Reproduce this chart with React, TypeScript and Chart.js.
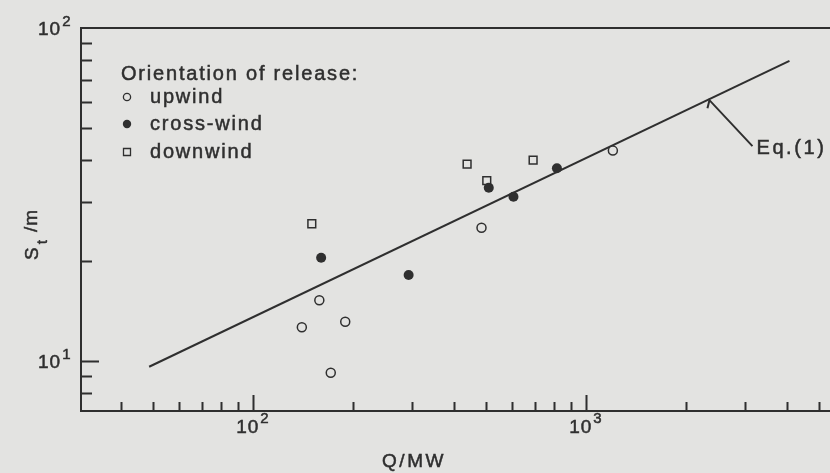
import React, { useEffect, useRef } from 'react';
import { Chart, registerables } from 'chart.js';

Chart.register(...registerables);

// ---- data ----
const upwindQ = [140, 158, 171, 189, 485, 1203];
const upwindS = [12.6, 15.2, 9.2, 13.1, 25.1, 42.8];
const crossWindQ = [160, 293, 510, 605, 817];
const crossWindS = [20.4, 18.1, 33.1, 31.1, 37.9];
const downwindQ = [150, 439, 503, 693];
const downwindS = [25.8, 39.0, 34.8, 40.1];
const eqLineQ = [48.7, 4080];
const eqLineS = [9.59, 79.6];
const eqPointerQ = 2346;

const xRange = [30.4, 5400];
const yRange = [7.06, 100];
const xTickValues = [40, 50, 60, 70, 80, 90, 100, 200, 300, 400, 500, 600, 700, 800, 900, 1000, 2000, 3000, 4000, 5000];
const yTickValues = [8, 9, 10, 20, 30, 40, 50, 60, 70, 80, 90];
const xLabelValues = [100, 1000];
const yLabelValues = [10, 100];

const legendTitle = 'Orientation of release:';
const seriesNames = ['upwind', 'cross-wind', 'downwind'];
const xTitle = 'Q/MW';
const yTitleMain = 'S';
const yTitleSub = 't';
const yTitleUnit = '/m';
const eqLabel = 'Eq.(1)';

// ---- styles ----
const BG = '#e3e3e1';
const INK = '#2f2f2f';
const FONT = '"Liberation Sans", Arial, Helvetica, sans-serif';

const isDecade = (v: number) => Math.abs(Math.log10(v) - Math.round(Math.log10(v))) < 1e-9;

function lineS(q: number) {
  const lx0 = Math.log10(eqLineQ[0]), lx1 = Math.log10(eqLineQ[1]);
  const ly0 = Math.log10(eqLineS[0]), ly1 = Math.log10(eqLineS[1]);
  const t = (Math.log10(q) - lx0) / (lx1 - lx0);
  return Math.pow(10, ly0 + t * (ly1 - ly0));
}

function inkText(ctx: CanvasRenderingContext2D, s: string, x: number, y: number) {
  ctx.fillText(s, x, y);
  const lw = ctx.lineWidth;
  ctx.lineWidth = 0.5;
  ctx.strokeText(s, x, y);
  ctx.lineWidth = lw;
}

function drawMarker(ctx: CanvasRenderingContext2D, kind: number, x: number, y: number, s: number) {
  ctx.beginPath();
  if (kind === 0) {
    ctx.arc(x, y, s, 0, Math.PI * 2);
    ctx.fillStyle = BG; ctx.fill(); ctx.stroke();
  } else if (kind === 1) {
    ctx.arc(x, y, s, 0, Math.PI * 2);
    ctx.fillStyle = INK; ctx.fill();
  } else {
    ctx.rect(x - s, y - s, 2 * s, 2 * s);
    ctx.fillStyle = BG; ctx.fill(); ctx.stroke();
  }
}

function powLabel(ctx: CanvasRenderingContext2D, left: number, base: number, exp: number, supDy: number) {
  ctx.font = `19px ${FONT}`;
  (ctx as any).letterSpacing = '1px';
  ctx.textAlign = 'left';
  ctx.textBaseline = 'alphabetic';
  inkText(ctx, '10', left, base);
  const w = ctx.measureText('10').width;
  ctx.font = `15px ${FONT}`;
  (ctx as any).letterSpacing = '0px';
  inkText(ctx, String(exp), left + w + 1, base - supDy);
}

const paperPlugin = {
  id: 'paper',
  beforeDraw(chart: any) {
    const ctx = chart.ctx as CanvasRenderingContext2D;
    ctx.save();
    ctx.fillStyle = BG;
    ctx.fillRect(0, 0, chart.width, chart.height);
    ctx.restore();
  },
  afterDraw(chart: any) {
    const ctx = chart.ctx as CanvasRenderingContext2D;
    const a = chart.chartArea;
    const xs = chart.scales.x;
    const ys = chart.scales.y;
    ctx.save();
    ctx.strokeStyle = INK;
    ctx.fillStyle = INK;
    ctx.lineWidth = 2;

    // frame
    ctx.beginPath();
    ctx.moveTo(a.right, a.top);
    ctx.lineTo(a.left, a.top);
    ctx.lineTo(a.left, a.bottom);
    ctx.lineTo(a.right, a.bottom);
    ctx.stroke();

    // inward ticks
    ctx.beginPath();
    xTickValues.forEach((v) => {
      const px = Math.round(xs.getPixelForValue(v)) + 0.5;
      const len = isDecade(v) ? 16 : 9;
      ctx.moveTo(px, a.bottom);
      ctx.lineTo(px, a.bottom - len);
    });
    yTickValues.forEach((v) => {
      const py = Math.round(ys.getPixelForValue(v)) + 0.5;
      const len = isDecade(v) ? 18 : 11;
      ctx.moveTo(a.left, py);
      ctx.lineTo(a.left + len, py);
    });
    ctx.stroke();

    // tick labels
    ctx.fillStyle = INK;
    xLabelValues.forEach((v) => {
      const px = xs.getPixelForValue(v);
      powLabel(ctx, px - 17, a.bottom + 22, Math.round(Math.log10(v)), 10);
    });
    yLabelValues.forEach((v) => {
      const py = ys.getPixelForValue(v);
      powLabel(ctx, a.left - 43, py + 7, Math.round(Math.log10(v)), 9);
    });

    // x title
    ctx.font = `19px ${FONT}`;
    (ctx as any).letterSpacing = '2.5px';
    ctx.textAlign = 'center';
    inkText(ctx, xTitle, a.left + 333, a.bottom + 56);

    // y title (rotated)
    ctx.save();
    ctx.translate(a.left - 43, 260);
    ctx.rotate(-Math.PI / 2);
    ctx.textAlign = 'left';
    ctx.font = `19px ${FONT}`;
    (ctx as any).letterSpacing = '0px';
    inkText(ctx, yTitleMain, 0, 0);
    const sw = ctx.measureText(yTitleMain).width;
    ctx.font = `15px ${FONT}`;
    inkText(ctx, yTitleSub, sw + 3, 9);
    ctx.font = `19px ${FONT}`;
    (ctx as any).letterSpacing = '1px';
    inkText(ctx, yTitleUnit, 28, -1);
    ctx.restore();

    // legend
    ctx.textAlign = 'left';
    ctx.font = `20px ${FONT}`;
    (ctx as any).letterSpacing = '1.8px';
    inkText(ctx, legendTitle, a.left + 40, 80);
    ctx.lineWidth = 1.3;
    const rowY = [97, 124, 152];
    const sizes = [3.6, 4.2, 3.5];
    seriesNames.forEach((name, i) => {
      drawMarker(ctx, i, a.left + 46, rowY[i], sizes[i]);
      ctx.fillStyle = INK;
      inkText(ctx, name, a.left + 69, rowY[i] + 6);
    });

    // Eq.(1) pointer
    const ax = xs.getPixelForValue(eqPointerQ);
    const ay = ys.getPixelForValue(lineS(eqPointerQ));
    ctx.lineWidth = 2;
    ctx.beginPath();
    ctx.moveTo(ax - 2, ay + 9);
    ctx.lineTo(ax, ay + 1);
    ctx.lineTo(ax + 43, ay + 47);
    ctx.stroke();
    ctx.font = `20px ${FONT}`;
    (ctx as any).letterSpacing = '2.6px';
    inkText(ctx, eqLabel, ax + 47, ay + 55);

    ctx.restore();
  },
};

export default function App() {
  const ref = useRef<HTMLCanvasElement | null>(null);

  useEffect(() => {
    if (!ref.current) return;
    const toPts = (qs: number[], ss: number[]) => qs.map((q, i) => ({ x: q, y: ss[i] }));
    const chart = new Chart(ref.current, {
      type: 'scatter',
      data: {
        datasets: [
          {
            label: seriesNames[0],
            data: toPts(upwindQ, upwindS),
            pointStyle: 'circle',
            pointRadius: 4.5,
            borderWidth: 1.5,
            borderColor: INK,
            backgroundColor: BG,
          },
          {
            label: seriesNames[1],
            data: toPts(crossWindQ, crossWindS),
            pointStyle: 'circle',
            pointRadius: 5,
            borderWidth: 0,
            borderColor: INK,
            backgroundColor: INK,
          },
          {
            label: seriesNames[2],
            data: toPts(downwindQ, downwindS),
            pointStyle: 'rect',
            pointRadius: 5.5,
            borderWidth: 1.5,
            borderColor: INK,
            backgroundColor: BG,
          },
          {
            label: eqLabel,
            type: 'line',
            data: toPts(eqLineQ, eqLineS),
            showLine: true,
            pointRadius: 0,
            borderWidth: 2,
            borderColor: INK,
            backgroundColor: INK,
            fill: false,
          } as any,
        ],
      },
      options: {
        responsive: false,
        animation: false,
        devicePixelRatio: 1,
        layout: { autoPadding: false, padding: { left: 81, right: 0, top: 28, bottom: 62 } },
        plugins: { legend: { display: false }, tooltip: { enabled: false }, title: { display: false } },
        scales: {
          x: { type: 'logarithmic', display: false, bounds: 'data', min: xRange[0], max: xRange[1] },
          y: { type: 'logarithmic', display: false, bounds: 'data', min: yRange[0], max: yRange[1] },
        },
      },
      plugins: [paperPlugin],
    });
    return () => chart.destroy();
  }, []);

  return (
    <div style={{ position: 'fixed', left: 0, top: 0, width: 830, height: 473, background: BG }}>
      <canvas ref={ref} width={830} height={473} style={{ display: 'block' }} />
    </div>
  );
}
